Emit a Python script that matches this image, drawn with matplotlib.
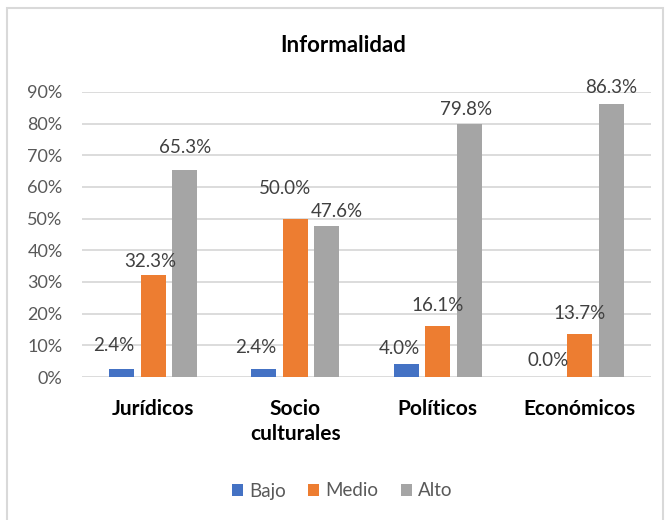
import matplotlib
matplotlib.use('Agg')
import matplotlib.pyplot as plt
import numpy as np
from matplotlib.patches import Rectangle

plt.rcParams['font.family'] = ['Lato', 'DejaVu Sans']

categorias = ['Jurídicos', 'Socio\nculturales', 'Políticos', 'Económicos']
series = ['Bajo', 'Medio', 'Alto']
bajo = [0.024, 0.024, 0.040, 0.000]
medio = [0.323, 0.500, 0.161, 0.137]
alto = [0.653, 0.476, 0.798, 0.863]
colores = ['#4472C4', '#ED7D31', '#A5A5A5']

# label nudges in pixels (dx, dy above bar top), hand placed like in the original
nudges = [
    [(-8, 24), (-8, 22), (-7, 16), (0, 16)],
    [(-3, 13), (-10, 30), (0, 21), (0, 20)],
    [(0, 23), (10, 15), (-3, 15), (0, 16)],
]

fig = plt.figure(figsize=(6.7, 5.2), dpi=100)
ax = fig.add_axes([82 / 670, 1 - 377 / 520, 569 / 670, 285 / 520])

# chart border
fig.patches.append(Rectangle((7 / 670, -0.05), 656 / 670, 1 - 8 / 520 + 0.05,
                             transform=fig.transFigure, fill=False,
                             edgecolor='#D9D9D9', linewidth=1.5))

x = np.arange(len(categorias))
ancho = 0.176
paso = 0.2215
datos = [bajo, medio, alto]
for i, (vals, col, nom) in enumerate(zip(datos, colores, series)):
    pos = x + (i - 1) * paso
    ax.bar(pos, vals, width=ancho, color=col, label=nom, zorder=3)
    for j, (p, v) in enumerate(zip(pos, vals)):
        dx, dy = nudges[i][j]
        ax.annotate('{:.1f}%'.format(v * 100), (p, v), xytext=(dx, dy),
                    textcoords='offset pixels', ha='center', va='center',
                    fontsize=13.5, color='#404040', zorder=4)

ax.set_xlim(-0.5, 3.5)
ax.set_ylim(0, 0.9)
ax.set_yticks(np.arange(0, 0.91, 0.1))
ax.set_yticklabels(['{:d}%'.format(int(round(t * 100))) for t in np.arange(0, 0.91, 0.1)],
                   fontsize=13, color='#595959')
ax.set_xticks(x)
ax.set_xticklabels(categorias, fontsize=15, fontweight='bold', color='black',
                   linespacing=1.3, va='top')
ax.tick_params(axis='both', length=0)
ax.tick_params(axis='y', pad=14)
ax.tick_params(axis='x', pad=16)
ax.grid(axis='y', color='#D9D9D9', linewidth=1.3, zorder=0)
for s in ax.spines.values():
    s.set_visible(False)

fig.text(343 / 670, 1 - 45 / 520, 'Informalidad', ha='center', va='center',
         fontsize=16, fontweight='bold', color='black')

fig.legend(loc='center', bbox_to_anchor=(342 / 670, 1 - 491 / 520), ncol=3,
           frameon=False, fontsize=13.5, labelcolor='#595959',
           handlelength=0.6, handleheight=0.6, handletextpad=0.3,
           columnspacing=1.2)

fig.savefig('out.png', dpi=100)
